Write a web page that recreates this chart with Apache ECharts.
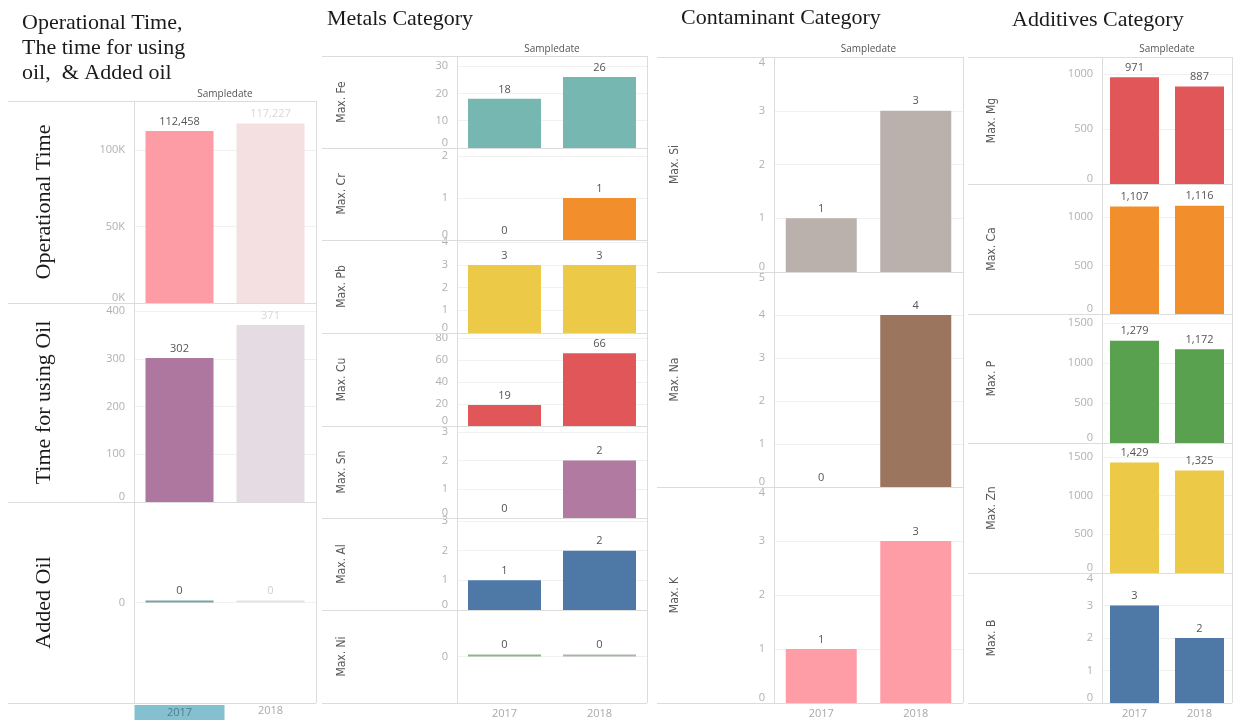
<!DOCTYPE html>
<html><head><meta charset="utf-8">
<script src="https://cdn.jsdelivr.net/npm/echarts@6/dist/echarts.min.js"></script>
<style>html,body{margin:0;padding:0;background:#fff}#c{width:1233px;height:720px}</style>
</head><body><div id="c"></div>
<script>
// ---------- data ----------
const years = ['2017', '2018'];
const columnTitles = ['Operational Time,\nThe time for using\noil,  & Added oil', 'Metals Category', 'Contaminant Category', 'Additives Category'];
const headerLabel = 'Sampledate';
const col1Labels = ['Operational Time', 'Time for using Oil', 'Added Oil'];
const opTime = [112458, 117227];
const oilTime = [302, 371];
const addedOil = [0, 0];
const metalLabels = ['Max. Fe', 'Max. Cr', 'Max. Pb', 'Max. Cu', 'Max. Sn', 'Max. Al', 'Max. Ni'];
const fe = [18, 26], cr = [0, 1], pb = [3, 3], cu = [19, 66], sn = [0, 2], al = [1, 2], ni = [0, 0];
const contamLabels = ['Max. Si', 'Max. Na', 'Max. K'];
const si = [1, 3], na = [0, 4], k = [1, 3];
const addLabels = ['Max. Mg', 'Max. Ca', 'Max. P', 'Max. Zn', 'Max. B'];
const mg = [971, 887], ca = [1107, 1116], p = [1279, 1172], zn = [1429, 1325], b = [3, 2];

// ---------- layout ----------
const cols = [
  {left: 8,   axisX: 134,  right: 316,  rows: [101, 303, 502, 703], barWidth: 68, labelX: 44,  sampleY: 94},
  {left: 322, axisX: 457,  right: 647,  rows: [56, 148, 240, 333, 426, 518, 610, 703], barWidth: 73, labelX: 342, sampleY: 49},
  {left: 657, axisX: 774,  right: 963,  rows: [57, 272, 487, 703], barWidth: 71, labelX: 675, sampleY: 49},
  {left: 968, axisX: 1102, right: 1232, rows: [57, 184, 314, 443, 573, 703], barWidth: 49, labelX: 992, sampleY: 49}
];
const titlePos = [{x: 22, y: 48}, {x: 327, y: 19}, {x: 681, y: 18}, {x: 1012, y: 20}];

const panels = [
  {col: 0, row: 0, name: col1Labels[0], data: opTime, colors: ['#fe9ca6', '#f4dfe1'], lc: ['#555', '#d8d8d8'], max: 132000, interval: 50000, fmt: v => (v / 1000) + 'K'},
  {col: 0, row: 1, name: col1Labels[1], data: oilTime, colors: ['#ad779f', '#e5dbe3'], lc: ['#555', '#d8d8d8'], max: 417, interval: 100},
  {col: 0, row: 2, name: col1Labels[2], data: addedOil, colors: ['#7e9fa3', '#e4e4e4'], lc: ['#555', '#d0d0d0'], min: -1, max: 1, interval: 1, zero: true},
  {col: 1, row: 0, name: metalLabels[0], data: fe, colors: ['#76b7b2', '#76b7b2'], max: 33.7, interval: 10},
  {col: 1, row: 1, name: metalLabels[1], data: cr, colors: ['#f28e2b', '#f28e2b'], max: 2.19, interval: 1},
  {col: 1, row: 2, name: metalLabels[2], data: pb, colors: ['#edc948', '#edc948'], max: 4.1, interval: 1},
  {col: 1, row: 3, name: metalLabels[3], data: cu, colors: ['#e15759', '#e15759'], max: 84.5, interval: 20},
  {col: 1, row: 4, name: metalLabels[4], data: sn, colors: ['#b07aa1', '#b07aa1'], max: 3.2, interval: 1},
  {col: 1, row: 5, name: metalLabels[5], data: al, colors: ['#4e79a7', '#4e79a7'], max: 3.1, interval: 1},
  {col: 1, row: 6, name: metalLabels[6], data: ni, colors: ['#8fb88a', '#a9b8a6'], min: -1, max: 1, interval: 1, zero: true},
  {col: 2, row: 0, name: contamLabels[0], data: si, colors: ['#bab0ac', '#bab0ac'], max: 4, interval: 1},
  {col: 2, row: 1, name: contamLabels[1], data: na, colors: ['#9c755f', '#9c755f'], max: 5, interval: 1},
  {col: 2, row: 2, name: contamLabels[2], data: k, colors: ['#ff9da7', '#ff9da7'], max: 4, interval: 1},
  {col: 3, row: 0, name: addLabels[0], data: mg, colors: ['#e15759', '#e15759'], max: 1155, interval: 500},
  {col: 3, row: 1, name: addLabels[1], data: ca, colors: ['#f28e2b', '#f28e2b'], max: 1340, interval: 500},
  {col: 3, row: 2, name: addLabels[2], data: p, colors: ['#59a14f', '#59a14f'], max: 1612, interval: 500},
  {col: 3, row: 3, name: addLabels[3], data: zn, colors: ['#edc948', '#edc948'], max: 1680, interval: 500},
  {col: 3, row: 4, name: addLabels[4], data: b, colors: ['#4e79a7', '#4e79a7'], max: 4, interval: 1}
];

const SANS = '"Open Sans", "Noto Sans", sans-serif';
const SERIF = '"Liberation Serif", "DejaVu Serif", serif';
const NARROW = '"Liberation Sans Narrow", "DejaVu Sans Condensed", sans-serif';

const grid = [], xAxis = [], yAxis = [], series = [], graphic = [];

panels.forEach((pn, i) => {
  const c = cols[pn.col];
  const top = c.rows[pn.row], bottom = c.rows[pn.row + 1];
  const isLast = pn.row === c.rows.length - 2;
  grid.push({left: c.axisX, top: top, width: c.right - c.axisX, height: bottom - top, containLabel: false});
  xAxis.push({
    type: 'category', gridIndex: i, data: years,
    axisLine: {show: false}, axisTick: {show: false}, splitLine: {show: false},
    axisLabel: {
      show: isLast, interval: 0, margin: pn.col === 0 ? 2 : 5, fontSize: 11, fontFamily: SANS, color: '#a8a8a8',
      formatter: (v, idx) => (pn.col === 0 && idx === 0) ? '{hl|' + v + '}' : v,
      rich: {hl: {backgroundColor: '#84c0cf', width: 90, height: 15, lineHeight: 15, align: 'center', color: '#4d7f8c', fontSize: 11, fontFamily: SANS}}
    }
  });
  const interval = pn.interval;
  yAxis.push({
    type: 'value', gridIndex: i,
    min: pn.min !== undefined ? pn.min : 0, max: pn.max, interval: interval,
    axisLine: {show: false}, axisTick: {show: false},
    splitLine: {show: true, lineStyle: {color: '#f1f1f1', width: 1}},
    axisLabel: {
      margin: 9, fontSize: 11, fontFamily: SANS, color: '#b0b0b0',
      verticalAlignMinLabel: pn.zero ? 'middle' : 'bottom',
      verticalAlignMaxLabel: 'top',
      formatter: v => {
        if (pn.zero) return Math.abs(v) < 1e-9 ? '0' : '';
        const r = v / interval;
        if (Math.abs(r - Math.round(r)) > 1e-6) return '';
        return pn.fmt ? pn.fmt(v) : String(v);
      }
    }
  });
  series.push({
    type: 'bar', xAxisIndex: i, yAxisIndex: i,
    barWidth: c.barWidth,
    barMinHeight: pn.zero ? 2 : 0,
    data: pn.data.map((v, j) => ({
      value: v,
      itemStyle: {color: pn.colors[j]},
      label: {color: pn.lc ? pn.lc[j] : '#555'}
    })),
    label: {
      show: true, position: 'top', distance: 4, fontSize: 11, fontFamily: SANS,
      formatter: q => q.value.toLocaleString('en-US')
    },
    emphasis: {disabled: true},
    animation: false
  });
  // row label
  const midY = (top + bottom) / 2;
  if (pn.col === 0) {
    graphic.push({type: 'text', x: c.labelX, y: midY, rotation: Math.PI / 2,
      style: {text: pn.name, fontSize: 22, fontFamily: SERIF, fill: '#1a1a1a', align: 'center', verticalAlign: 'middle', textAlign: 'center', textVerticalAlign: 'middle'}});
  } else {
    graphic.push({type: 'text', x: c.labelX, y: midY, rotation: Math.PI / 2,
      style: {text: pn.name, fontSize: 12, fontFamily: NARROW, fill: '#5a5a5a', align: 'center', verticalAlign: 'middle', textAlign: 'center', textVerticalAlign: 'middle'}});
  }
});

// borders, titles, headers
cols.forEach((c, ci) => {
  const lc = '#dcdcdc';
  c.rows.forEach(y => {
    graphic.push({type: 'line', shape: {x1: c.left, y1: y + 0.5, x2: c.right, y2: y + 0.5}, style: {stroke: lc, lineWidth: 1}, z: 10});
  });
  const t = c.rows[0], bt = c.rows[c.rows.length - 1];
  graphic.push({type: 'line', shape: {x1: c.axisX + 0.5, y1: t, x2: c.axisX + 0.5, y2: bt}, style: {stroke: lc, lineWidth: 1}, z: 10});
  graphic.push({type: 'line', shape: {x1: c.right + 0.5, y1: t, x2: c.right + 0.5, y2: bt}, style: {stroke: lc, lineWidth: 1}, z: 10});
  graphic.push({type: 'text', x: (c.axisX + c.right) / 2, y: c.sampleY,
    style: {text: headerLabel, fontSize: 10, fontFamily: SANS, fill: '#555', align: 'center', verticalAlign: 'middle', textAlign: 'center', textVerticalAlign: 'middle'}});
  graphic.push({type: 'text', x: titlePos[ci].x, y: titlePos[ci].y,
    style: {text: columnTitles[ci], fontSize: 22, lineHeight: 25, fontFamily: SERIF, fill: '#1a1a1a', align: 'left', verticalAlign: 'middle', textAlign: 'left', textVerticalAlign: 'middle'}});
});

const chart = echarts.init(document.getElementById('c'), null, {renderer: 'canvas'});
chart.setOption({
  animation: false,
  backgroundColor: '#fff',
  grid, xAxis, yAxis, series,
  graphic: {elements: graphic}
});
</script>
</body></html>
